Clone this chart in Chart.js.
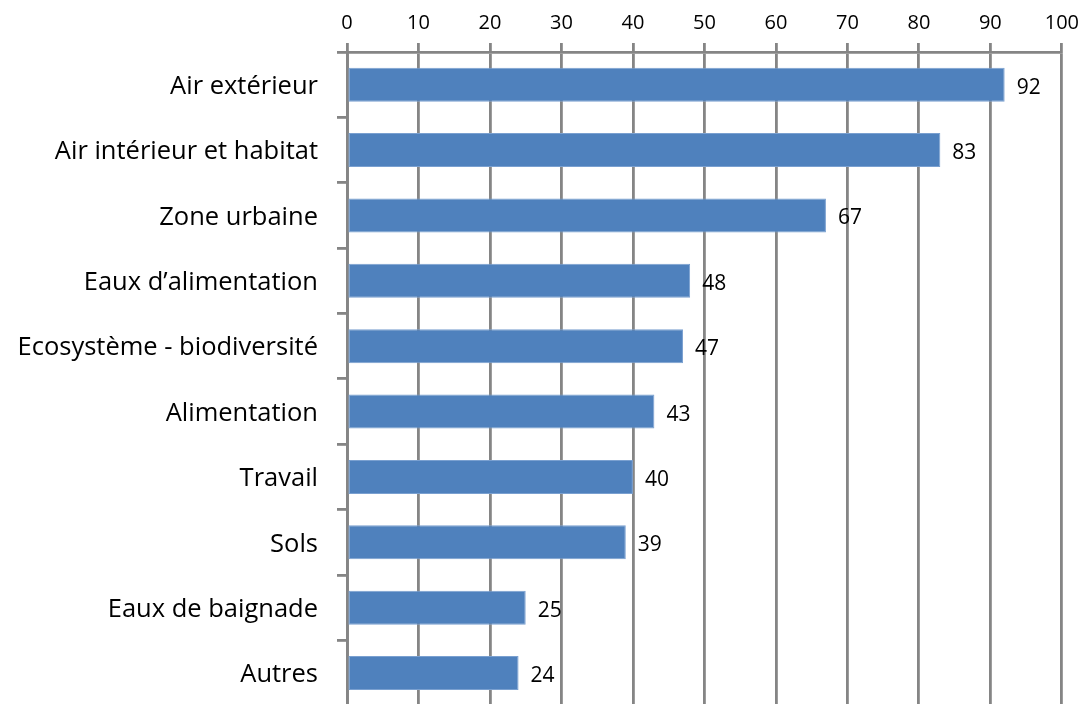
<!DOCTYPE html>
<html>
<head>
<meta charset="utf-8">
<script src="https://cdn.jsdelivr.net/npm/chart.js@4/dist/chart.umd.min.js"></script>
<style>
html,body{margin:0;padding:0;background:#fff;overflow:hidden;}
#clip{position:relative;width:1087px;height:704px;overflow:hidden;}
#wrap{position:absolute;left:0;top:0;width:1087px;height:740px;}
</style>
</head>
<body>
<div id="clip"><div id="wrap"><canvas id="c"></canvas></div></div>
<script>
const categories = ["Air extérieur","Air intérieur et habitat","Zone urbaine","Eaux d’alimentation","Ecosystème - biodiversité","Alimentation","Travail","Sols","Eaux de baignade","Autres"];
const values = [92,83,67,48,47,43,40,39,25,24];
const xTicks = [0,10,20,30,40,50,60,70,80,90,100];

const FONT = "'Open Sans', sans-serif";
const GRID = '#858585';

const valueLabels = {
  id:'valueLabels',
  afterDatasetsDraw(chart){
    const ctx = chart.ctx;
    const meta = chart.getDatasetMeta(0);
    ctx.save();
    ctx.font = "21px " + FONT;
    ctx.fillStyle = '#000';
    ctx.textAlign = 'left';
    ctx.textBaseline = 'middle';
    meta.data.forEach((bar,i)=>{
      ctx.fillText(String(values[i]), bar.x + 12, bar.y + 3);
    });
    ctx.restore();
  }
};

new Chart(document.getElementById('c'), {
  type:'bar',
  data:{
    labels:categories,
    datasets:[{
      data:values,
      backgroundColor:'#4F81BD',
      borderColor:'#7aa0d0',
      borderWidth:1,
      borderSkipped:false,
      barPercentage:1,
      categoryPercentage:0.52
    }]
  },
  options:{
    indexAxis:'y',
    responsive:true,
    maintainAspectRatio:false,
    animation:false,
    layout:{padding:{left:0,right:22,top:3,bottom:0}},
    plugins:{legend:{display:false},tooltip:{enabled:false}},
    scales:{
      x:{
        position:'top',
        min:0,max:100,
        afterBuildTicks(axis){ axis.ticks = xTicks.map(v=>({value:v})); },
        grid:{color:GRID,lineWidth:2.8,tickLength:9,drawOnChartArea:true,drawTicks:true},
        border:{display:true,color:GRID,width:2.8},
        ticks:{font:{family:FONT,size:20},color:'#000',padding:8,maxRotation:0}
      },
      y:{
        afterFit(axis){ axis.width = 347; },
        grid:{color:GRID,lineWidth:2.8,tickLength:10,drawOnChartArea:false,drawTicks:true},
        border:{display:true,color:GRID,width:2.8},
        ticks:{font:{family:FONT,size:25.5},color:'#000',padding:19,autoSkip:false,labelOffset:2}
      }
    }
  },
  plugins:[valueLabels]
});
</script>
</body>
</html>
